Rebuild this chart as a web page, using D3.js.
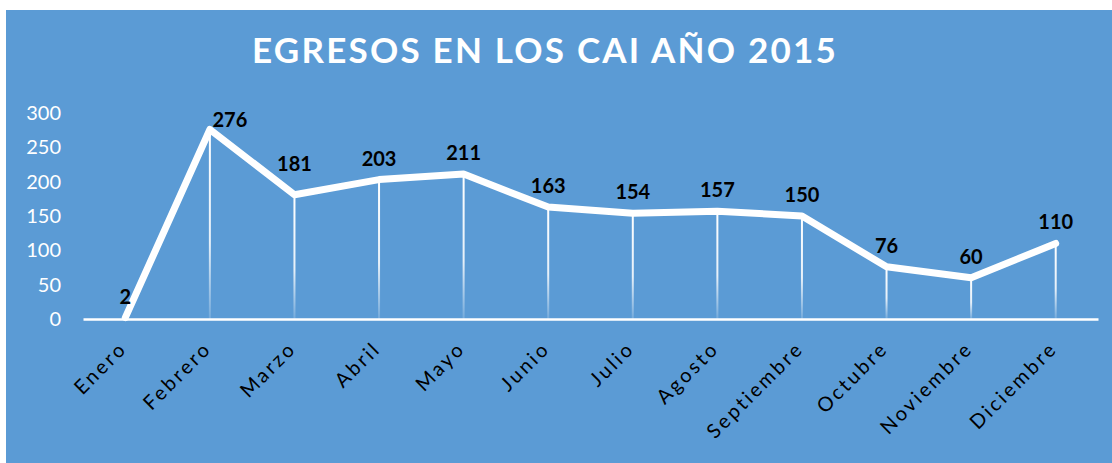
<!DOCTYPE html>
<html>
<head>
<meta charset="utf-8">
<script src="https://cdn.jsdelivr.net/npm/d3@7"></script>
<style>
    html, body { margin: 0; padding: 0; background: #fff; }
    svg { display: block; font-family: Lato, "Open Sans", sans-serif; }
</style>
</head>
<body>
<div id="chart"></div>
<script>
const months = ['Enero', 'Febrero', 'Marzo', 'Abril', 'Mayo', 'Junio', 'Julio', 'Agosto', 'Septiembre', 'Octubre', 'Noviembre', 'Diciembre'];
const egresos = [2, 276, 181, 203, 211, 163, 154, 157, 150, 76, 60, 110];
const yTicks = [0, 50, 100, 150, 200, 250, 300];
const title = 'EGRESOS EN LOS CAI AÑO 2015';

const width = 1112;
const height = 463;
const blue = '#5b9bd5';

const svg = d3.select('#chart').append('svg')
    .attr('width', width)
    .attr('height', height);

// panel
svg.append('rect')
    .attr('x', 6).attr('y', 10)
    .attr('width', width - 6).attr('height', height - 10)
    .attr('fill', blue);

const x = d3.scaleBand().domain(months).range([83, 1098]);
const y = d3.scaleLinear().domain([0, 300]).range([319, 113]);
const cx = d => x(d) + x.bandwidth() / 2;

// fading drop line
const grad = svg.append('defs').append('linearGradient')
    .attr('id', 'drop')
    .attr('x1', 0).attr('y1', 0).attr('x2', 0).attr('y2', 1);
grad.append('stop').attr('offset', '0%').attr('stop-color', '#fff').attr('stop-opacity', 1);
grad.append('stop').attr('offset', '60%').attr('stop-color', '#fff').attr('stop-opacity', 0.85);
grad.append('stop').attr('offset', '100%').attr('stop-color', '#fff').attr('stop-opacity', 0.15);

// title
const t = svg.append('text')
    .attr('x', 545).attr('y', 63)
    .attr('text-anchor', 'middle')
    .attr('fill', '#fff')
    .attr('font-weight', 700)
    .attr('font-size', 35)
    .text(title);
const natural = t.node().getComputedTextLength();
t.attr('letter-spacing', (586 - natural) / title.length);

// y axis
const yAxis = svg.append('g')
    .attr('transform', 'translate(61,0)')
    .call(d3.axisLeft(y).tickValues(yTicks).tickSize(0).tickPadding(0));
yAxis.select('.domain').remove();
yAxis.selectAll('text')
    .attr('fill', '#fff')
    .attr('font-size', 20)
    .attr('font-family', 'Lato, sans-serif');

// x axis
const xAxis = svg.append('g')
    .attr('transform', 'translate(0,319)')
    .call(d3.axisBottom(x).tickSize(0).tickFormat(''));
xAxis.select('.domain')
    .attr('stroke', '#fff')
    .attr('stroke-width', 2.5);

svg.append('g').selectAll('text')
    .data(months)
    .join('text')
    .attr('transform', d => `translate(${cx(d) - 7},${340}) rotate(-45)`)
    .attr('text-anchor', 'end')
    .attr('dy', '0.7em')
    .attr('fill', '#000')
    .attr('font-size', 20)
    .attr('letter-spacing', 2.7)
    .text(d => d);

const data = months.map((m, i) => ({ month: m, value: egresos[i] }));

// drop lines
svg.append('g').selectAll('rect')
    .data(data)
    .join('rect')
    .attr('x', d => cx(d.month) - 1)
    .attr('y', d => y(d.value))
    .attr('width', 2)
    .attr('height', d => Math.max(0, y(0) - y(d.value)))
    .attr('fill', 'url(#drop)');

// line
svg.append('path')
    .datum(data)
    .attr('fill', 'none')
    .attr('stroke', '#fff')
    .attr('stroke-width', 7)
    .attr('stroke-linejoin', 'round')
    .attr('stroke-linecap', 'round')
    .attr('d', d3.line().x(d => cx(d.month)).y(d => y(d.value)));

// data labels (Excel nudges the crowded ones)
const nudge = { Febrero: [20, 12], Marzo: [0, -10] };
svg.append('g').selectAll('text')
    .data(data)
    .join('text')
    .attr('x', d => cx(d.month) + (nudge[d.month] ? nudge[d.month][0] : 0))
    .attr('y', d => y(d.value) - 14 + (nudge[d.month] ? nudge[d.month][1] : 0))
    .attr('text-anchor', 'middle')
    .attr('fill', '#000')
    .attr('font-weight', 700)
    .attr('font-size', 20)
    .text(d => d.value);
</script>
</body>
</html>
